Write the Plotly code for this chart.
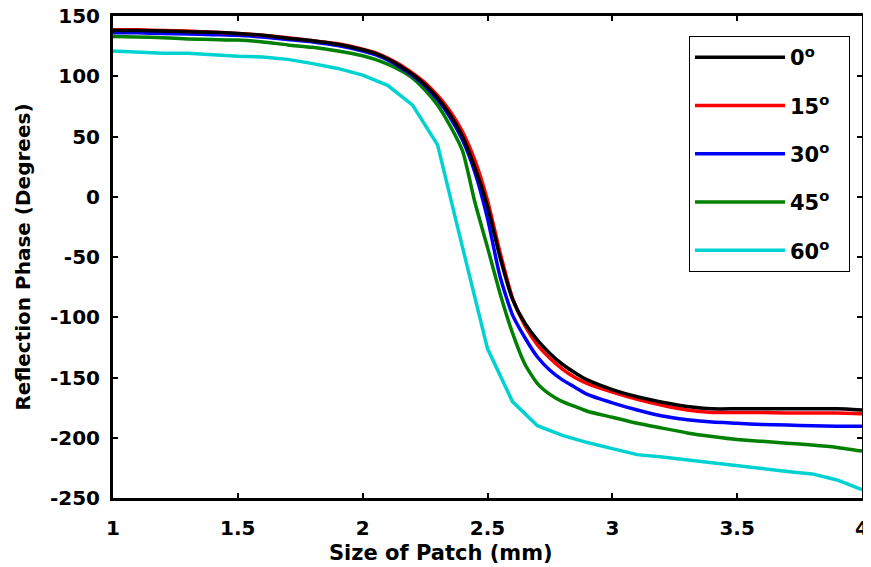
import plotly.graph_objects as go

# ---- data ----
patch_size = [1.0, 1.1, 1.2, 1.3, 1.4, 1.5, 1.6, 1.7, 1.8, 1.9, 2.0, 2.05, 2.1, 2.15, 2.2,
              2.25, 2.3, 2.35, 2.4, 2.45, 2.5, 2.55, 2.6, 2.65, 2.7, 2.75, 2.8, 2.85, 2.9,
              3.0, 3.1, 3.2, 3.3, 3.4, 3.5, 3.6, 3.7, 3.8, 3.9, 4.0]

phase_0 = [138, 138, 137.5, 137, 136.5, 135.5, 134, 131.5, 129.5, 126.5, 122, 119, 114.5,
           108.5, 101.5, 93, 82, 68, 50, 24, -8, -50, -85, -105, -119, -130, -139, -146,
           -152, -160, -166, -170.5, -174, -176, -176, -176, -176, -176, -176, -177]

phase_15 = [138.5, 138.5, 138, 137.5, 136.5, 135.5, 134, 132, 129.5, 127, 122.5, 119.5, 115,
            109.5, 102.5, 94.5, 84, 71, 54, 30, -3, -46, -84, -107, -123, -134, -143, -150,
            -155, -162, -168, -173, -177, -179, -179, -179, -179.5, -179.5, -179.5, -180]

phase_30 = [136, 136, 135.5, 135, 134.5, 134, 132.5, 130.5, 128.5, 125.5, 121, 118, 113.5,
            107.5, 100.5, 92, 80.5, 66, 47, 20, -18, -66, -98, -117, -133, -144, -152, -158,
            -164, -171, -177, -182, -185, -187, -188, -189, -189.5, -190, -190.5, -190.5]

phase_45 = [133, 132.5, 132, 131, 130.5, 130, 128.5, 126, 124, 121, 117, 114, 110, 105, 98.5,
            88.5, 76, 59, 38, -5, -42, -80, -113, -139, -155, -164, -170, -174, -178, -183,
            -188, -192, -196, -199, -201.5, -203, -204.5, -206, -208, -211]

patch_size_60 = [1.0, 1.1, 1.2, 1.3, 1.4, 1.5, 1.6, 1.7, 1.8, 1.9, 2.0, 2.1, 2.2, 2.3, 2.4,
                 2.5, 2.6, 2.7, 2.8, 2.9, 3.0, 3.1, 3.2, 3.3, 3.4, 3.5, 3.6, 3.7, 3.8, 3.9, 4.0]
phase_60 = [121, 120, 119, 119, 117.5, 116.5, 116, 114, 110.5, 106.5, 101, 92.5, 76, 43, -42,
            -126, -170, -190, -198, -204, -209, -214, -216, -218.5, -221, -223, -226, -228,
            -230, -235, -243]

series_names = ["0<sup>o</sup>", "15<sup>o</sup>", "30<sup>o</sup>", "45<sup>o</sup>", "60<sup>o</sup>"]
series_colors = ["#000000", "#ff0000", "#0000ff", "#008000", "#00d2d2"]

x_ticks = [1, 1.5, 2, 2.5, 3, 3.5, 4]
x_tick_labels = ["1", "1.5", "2", "2.5", "3", "3.5", "4"]
y_ticks = [150, 100, 50, 0, -50, -100, -150, -200, -250]
y_tick_labels = ["150", "100", "50", "0", "-50", "-100", "-150", "-200", "-250"]

FONT = "DejaVu Sans"

# The page body has an 8px default margin, so the figure is drawn 8px right/down.
OFF = 8
PLOT_L, PLOT_R, PLOT_T, PLOT_B = 113, 862, 16, 498   # target page pixels of the plot area
W, H = 871 - OFF, 567 - OFF

fig = go.Figure()
xs = [patch_size, patch_size, patch_size, patch_size, patch_size_60]
ys = [phase_0, phase_15, phase_30, phase_45, phase_60]
shapes = ["spline", "spline", "spline", "spline", "linear"]
order = [4, 3, 2, 1, 0]  # black drawn last (on top), as in the reference
traces = {}
for i in range(5):
    traces[i] = go.Scatter(
        x=xs[i], y=ys[i], mode="lines", name=series_names[i] + "&nbsp;&nbsp;",
        line=dict(color=series_colors[i], width=3.5, shape=shapes[i], smoothing=0.6),
        legendgroup=f"g{i}", legendrank=i + 1,
    )
for i in order:
    fig.add_trace(traces[i])

axis_common = dict(
    showline=True, linecolor="black", linewidth=3, mirror="ticks",
    ticks="inside", ticklen=5, tickwidth=2, tickcolor="black",
    showgrid=False, zeroline=False, automargin=False, ticklabeloverflow="allow",
    tickfont=dict(family=FONT, size=20, color="black", weight="bold"),
)

plot_w = PLOT_R - PLOT_L
plot_h = PLOT_B - PLOT_T

fig.update_layout(
    width=W, height=H,
    margin=dict(l=PLOT_L - OFF, r=W - (PLOT_R - OFF), t=PLOT_T - OFF, b=H - (PLOT_B - OFF),
                autoexpand=False),
    paper_bgcolor="white", plot_bgcolor="white",
    font=dict(family=FONT, color="black"),
    xaxis=dict(range=[1, 4], tickmode="array", tickvals=x_ticks, ticktext=x_tick_labels,
               ticklabelstandoff=10, **axis_common),
    yaxis=dict(range=[-250, 150], tickmode="array", tickvals=y_ticks, ticktext=y_tick_labels,
               ticklabelstandoff=6,
               title=dict(text="Reflection Phase (Degrees)", standoff=14,
                          font=dict(family=FONT, size=20, color="black", weight="bold")),
               **axis_common),
    legend=dict(
        x=(689 - PLOT_L) / plot_w, y=(PLOT_B - 36) / plot_h, xanchor="left", yanchor="top",
        bgcolor="white", bordercolor="black", borderwidth=1,
        font=dict(family=FONT, size=21, color="black", weight="bold"),
        itemwidth=90, tracegroupgap=18, traceorder="grouped",
    ),
    annotations=[dict(
        text="Size of Patch (mm)", xref="paper", yref="paper",
        x=(441 - PLOT_L) / plot_w, y=0, xanchor="center", yanchor="top", yshift=-41,
        showarrow=False, font=dict(family=FONT, size=21, color="black", weight="bold"),
    )],
)

fig.write_html("out.html")
